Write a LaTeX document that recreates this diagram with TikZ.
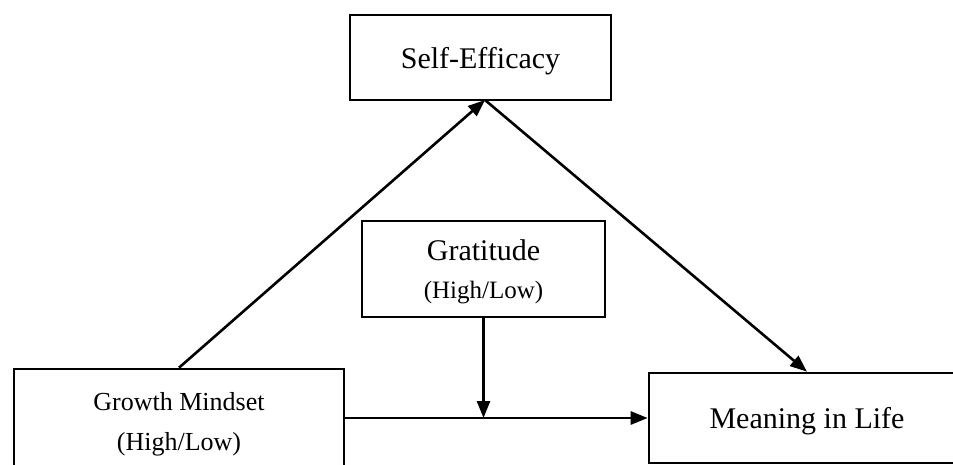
\documentclass[tikz,border=0pt]{standalone}
\usepackage{fontspec}
\setmainfont{Liberation Serif}
\usepackage{tikz}
\usetikzlibrary{positioning, calc, arrows.meta}

\tikzset{
     box/.style={draw, line width=2.6pt, rectangle, align=center, inner sep=0pt},
     arr/.style={-{Triangle[length=17pt,width=13pt]}, line width=2.6pt}
}

\begin{document}
\begin{tikzpicture}[x=1pt, y=-1pt]
               \useasboundingbox (0,0) rectangle (953,464);
               \clip (0,0) rectangle (953,464);
               \node[box, minimum width=261pt, minimum height=85pt, text depth=0pt, font=\fontsize{30}{36}\selectfont] (se) at (480.5,57.5) {Self-Efficacy};
               \node[box, minimum width=243pt, minimum height=96pt, text depth=0pt, font=\fontsize{30}{36}\selectfont] (grat) at (483.5,269) {Gratitude\\[2pt]{\fontsize{25}{30}\selectfont (High/Low)}};
               \node[box, minimum width=330pt, minimum height=110pt, font=\fontsize{26}{40}\selectfont] (gm) at (179,424) {Growth Mindset\\(High/Low)};
               \node[box, minimum width=316pt, minimum height=90pt, text depth=0pt, font=\fontsize{30}{36}\selectfont] (mil) at (807,418) {Meaning in Life};
               % apex of the two paths through self-efficacy
               \coordinate (apex) at (485,100);
               \draw[arr] (gm.north) -- (apex);
               \draw[arr] (apex) -- (mil.north);
               \draw[arr] (mil.west -| gm.east) -- (mil.west);
               \draw[arr] (grat.south) -- (grat.south |- mil.west);
\end{tikzpicture}
\end{document}
